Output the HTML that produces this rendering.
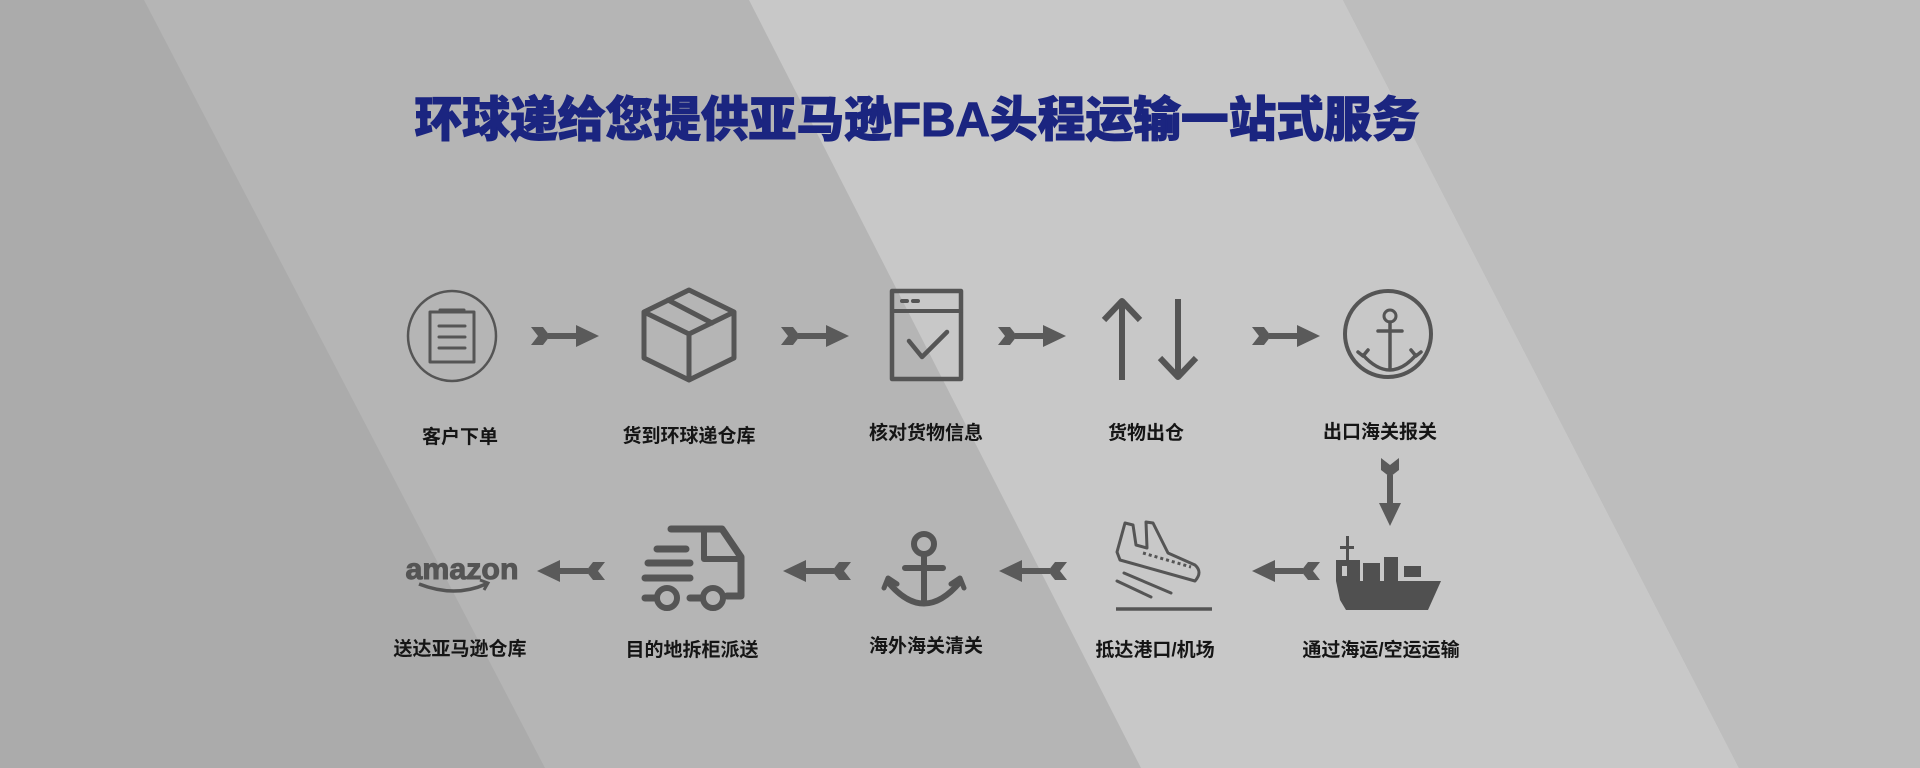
<!DOCTYPE html>
<html><head><meta charset="utf-8"><style>
html,body{margin:0;padding:0;width:1920px;height:768px;overflow:hidden;background:#b5b5b5}
svg{display:block}
.lb{font-family:"Liberation Sans","Noto Sans CJK SC",sans-serif;font-size:19px;font-weight:bold;fill:#151515;text-anchor:middle}
</style></head><body>
<svg width="1920" height="768" viewBox="0 0 1920 768" xmlns="http://www.w3.org/2000/svg">
<rect width="1920" height="768" fill="#b5b5b5"/>
<polygon points="0,0 144,0 545,768 0,768" fill="#ababab"/>
<polygon points="749,0 1343,0 1739,768 1141,768" fill="#c8c8c8"/>
<polygon points="1343,0 1920,0 1920,768 1739,768" fill="#bdbdbd"/>
<text x="917" y="136" font-family="'Liberation Sans','Noto Sans CJK SC',sans-serif" font-size="48" font-weight="900" fill="#1b2580" stroke="#1b2580" stroke-width="1" text-anchor="middle" textLength="1005" lengthAdjust="spacingAndGlyphs">环球递给您提供亚马逊FBA头程运输一站式服务</text>
<defs>
<g id="ar" fill="#5a5a5a">
<polygon points="-34,-9 -22,-9 -15,0 -22,9 -34,9 -27,0"/>
<rect x="-17" y="-3" width="30" height="6"/>
<polygon points="11,-11 34,0 11,11"/>
</g>
</defs>
<g fill="none" stroke="#555" stroke-linecap="round" stroke-linejoin="round">
<!-- clipboard -->
<ellipse cx="452" cy="336" rx="44" ry="45" stroke-width="2.5"/>
<path d="M430 312 H474 V362 H430 Z" stroke-width="3" stroke-linecap="butt"/>
<path d="M440 310 H464" stroke-width="3"/>
<path d="M439 326 H465 M439 337 H465 M439 348 H465" stroke-width="3"/>
<!-- box -->
<path d="M689 290 L734 312 L734 358 L689 380 L644 358 L644 312 Z M644 312 L689 334 L734 312 M689 334 V380 M668 300 L712 323" stroke-width="5"/>
<!-- doc -->
<rect x="892" y="291" width="69" height="88" stroke-width="4.5"/>
<path d="M892 311 H961" stroke-width="4"/>
<path d="M902 301 H907 M913 301 H918" stroke-width="4"/>
<path d="M909 341 L922 357 L947 332" stroke-width="4.5"/>
<!-- up/down arrows -->
<path d="M1122 380 V302 M1104 320 L1122 301 L1140 320" stroke-width="6" stroke-linecap="butt"/>
<path d="M1178 299 V376 M1160 358 L1178 377 L1196 358" stroke-width="6" stroke-linecap="butt"/>
<!-- anchor circle -->
<circle cx="1388" cy="334" r="43" stroke-width="4"/>
<circle cx="1390" cy="316" r="6" stroke-width="3"/>
<path d="M1390 322 V368 M1378 331 H1402" stroke-width="3.5"/>
<path d="M1363 355 Q1390 385 1416 355" stroke-width="3.5"/>
<path d="M1358 352 L1363 356 L1368 350 M1421 352 L1416 356 L1411 350" stroke-width="3.5"/>
<!-- truck -->
<path d="M671 529 H722 L741 557 V596 H727" stroke-width="7"/>
<path d="M704 531 V559 H739" stroke-width="6"/>
<path d="M702 598 H690 M645 598 H656" stroke-width="7"/>
<circle cx="667" cy="598" r="10" stroke-width="6"/>
<circle cx="713" cy="598" r="10" stroke-width="6"/>
<path d="M657 549 H686 M648 563 H690 M645 578 H690" stroke-width="7"/>
<!-- anchor plain -->
<circle cx="924" cy="544" r="10" stroke-width="6"/>
<path d="M924 554 V600 M905 568 H943" stroke-width="6"/>
<path d="M888 582 Q924 625 960 582" stroke-width="6"/>
<path d="M884 588 L888 578 L897 584 M964 588 L960 578 L951 584" stroke-width="5"/>
<!-- plane -->
<path d="M1117 552 L1125 523 L1133 525 L1136 545 L1147 548 L1146 522 L1153 523 L1168 553 L1195 565 Q1203 572 1195 581 L1120 560 Z" stroke-width="3"/>
<path d="M1143 553 L1191 567" stroke-width="3" stroke-dasharray="3 3" stroke-linecap="butt"/>
<path d="M1124 573 L1171 593 M1117 581 L1151 597" stroke-width="3"/>
<path d="M1116 609 H1212" stroke-width="3.5" stroke-linecap="butt"/>
</g>
<!-- ship -->
<g fill="#505050">
<rect x="1346" y="536" width="3" height="24"/>
<rect x="1340" y="546" width="14" height="3"/>
<path d="M1336 560 H1360 V581 H1336 Z M1342 566 V576 H1347 V566 Z" fill-rule="evenodd"/>
<rect x="1363" y="563" width="17" height="18"/>
<rect x="1384" y="557" width="14" height="24"/>
<rect x="1404" y="566" width="17" height="11"/>
<path d="M1336 581 H1441 L1428 610 H1346 L1340 600 Z"/>
</g>
<!-- amazon -->
<text x="462" y="579" font-family="'Liberation Sans',sans-serif" font-size="30" font-weight="bold" fill="#555" stroke="#555" stroke-width="1" text-anchor="middle" textLength="113" lengthAdjust="spacingAndGlyphs">amazon</text>
<path d="M419 584 Q455 598 486 584" fill="none" stroke="#555" stroke-width="3.5"/>
<path d="M480 580 L488 583 L484 590" fill="none" stroke="#555" stroke-width="3"/>
<!-- connectors -->
<use href="#ar" x="565" y="336"/>
<use href="#ar" x="815" y="336"/>
<use href="#ar" x="1032" y="336"/>
<use href="#ar" x="1286" y="336"/>
<g transform="translate(1390,492) rotate(90)"><use href="#ar"/></g>
<g transform="translate(571,571) rotate(180)"><use href="#ar"/></g>
<g transform="translate(817,571) rotate(180)"><use href="#ar"/></g>
<g transform="translate(1033,571) rotate(180)"><use href="#ar"/></g>
<g transform="translate(1286,571) rotate(180)"><use href="#ar"/></g>
<!-- labels -->
<text class="lb" x="460" y="443">客户下单</text>
<text class="lb" x="689" y="442">货到环球递仓库</text>
<text class="lb" x="926" y="439">核对货物信息</text>
<text class="lb" x="1146" y="439">货物出仓</text>
<text class="lb" x="1380" y="438">出口海关报关</text>
<text class="lb" x="460" y="655">送达亚马逊仓库</text>
<text class="lb" x="692" y="656">目的地拆柜派送</text>
<text class="lb" x="926" y="652">海外海关清关</text>
<text class="lb" x="1155" y="656">抵达港口/机场</text>
<text class="lb" x="1381" y="656">通过海运/空运运输</text>
</svg>
</body></html>
